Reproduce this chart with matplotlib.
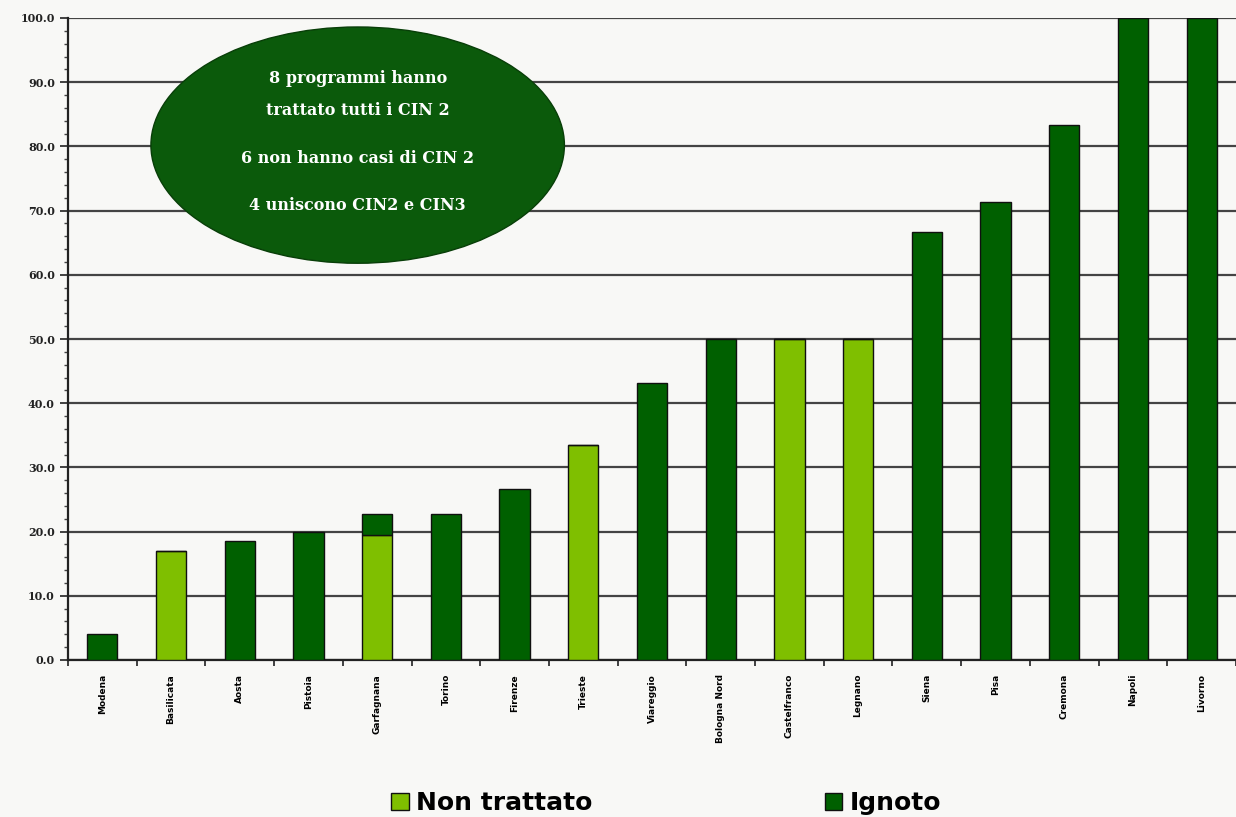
import matplotlib.pyplot as plt
import numpy as np
from matplotlib.patches import Ellipse
from matplotlib.ticker import MultipleLocator, FormatStrFormatter

# Data
programmi = ['Modena', 'Basilicata', 'Aosta', 'Pistoia', 'Garfagnana', 'Torino',
             'Firenze', 'Trieste', 'Viareggio', 'Bologna Nord', 'Castelfranco',
             'Legnano', 'Siena', 'Pisa', 'Cremona', 'Napoli', 'Livorno']
non_trattato = [0, 17.0, 0, 0, 19.5, 0, 0, 33.5, 0, 0, 50.0, 50.0, 0, 0, 0, 0, 0]
ignoto = [4.0, 0, 18.5, 20.0, 3.2, 22.7, 26.7, 0, 43.2, 50.0, 0, 0, 66.7, 71.4, 83.3, 100.0, 100.0]

box_lines = ['8 programmi hanno', 'trattato tutti i CIN 2',
             '6 non hanno casi di CIN 2', '4 uniscono CIN2 e CIN3']

light = '#7fbf00'
dark = '#006000'
bg = '#f8f8f6'

fig = plt.figure(figsize=(12.36, 8.17), dpi=100, facecolor=bg)
ax = fig.add_axes([68 / 1236, 1 - 660 / 817, 1168 / 1236, 642 / 817])
ax.set_facecolor(bg)

x = np.arange(len(programmi))
w = 0.44
b1 = ax.bar(x, non_trattato, w, color=light, edgecolor='#101010', linewidth=1.0,
            label='Non trattato', zorder=3)
b2 = ax.bar(x, ignoto, w, bottom=non_trattato, color=dark, edgecolor='#101010',
            linewidth=1.0, label='Ignoto', zorder=3)

ax.set_xlim(-0.5, len(programmi) - 0.5)
ax.set_ylim(0, 100)
ax.yaxis.set_major_locator(MultipleLocator(10))
ax.yaxis.set_minor_locator(MultipleLocator(2))
ax.yaxis.set_major_formatter(FormatStrFormatter('%.1f'))
ax.grid(axis='y', which='major', color='#444444', linewidth=1.6, zorder=0)

ax.set_xticks(x)
ax.set_xticklabels(programmi, rotation=90, fontsize=6.5, fontweight='bold',
                   va='top')
ax.set_xticks(np.arange(len(programmi) + 1) - 0.5, minor=True)
ax.tick_params(axis='x', which='major', length=0, pad=10)
ax.tick_params(axis='x', which='minor', length=4, width=1.2, color='#222222')
ax.tick_params(axis='y', which='major', length=6, width=1.2, labelsize=8,
               colors='#222222')
ax.tick_params(axis='y', which='minor', length=3, width=1.0, color='#444444')
for lab in ax.get_yticklabels():
    lab.set_fontweight('bold')
    lab.set_family('DejaVu Serif')

for side in ['top', 'right']:
    ax.spines[side].set_visible(False)
for side in ['left', 'bottom']:
    ax.spines[side].set_linewidth(1.6)
    ax.spines[side].set_color('#222222')

ell = Ellipse((0.248, 0.802), 0.354, 0.368, transform=ax.transAxes,
              facecolor='#0b5a0b', edgecolor='#083e08', linewidth=1.0, zorder=5)
ax.add_patch(ell)
line_y = [0.906, 0.856, 0.781, 0.708]
for txt, yy in zip(box_lines, line_y):
    ax.text(0.248, yy, txt, transform=ax.transAxes, ha='center', va='center',
            color='white', fontsize=11.5, fontweight='bold', family='DejaVu Serif',
            zorder=6)

fig.legend(handles=[b1, b2], loc='center', bbox_to_anchor=(0.539, 0.017),
           ncol=2, frameon=False, prop={'size': 18, 'weight': 'bold'},
           columnspacing=9.3, handlelength=0.7, handleheight=0.7,
           handletextpad=0.3)

fig.savefig('out.png', dpi=100, facecolor=bg)
